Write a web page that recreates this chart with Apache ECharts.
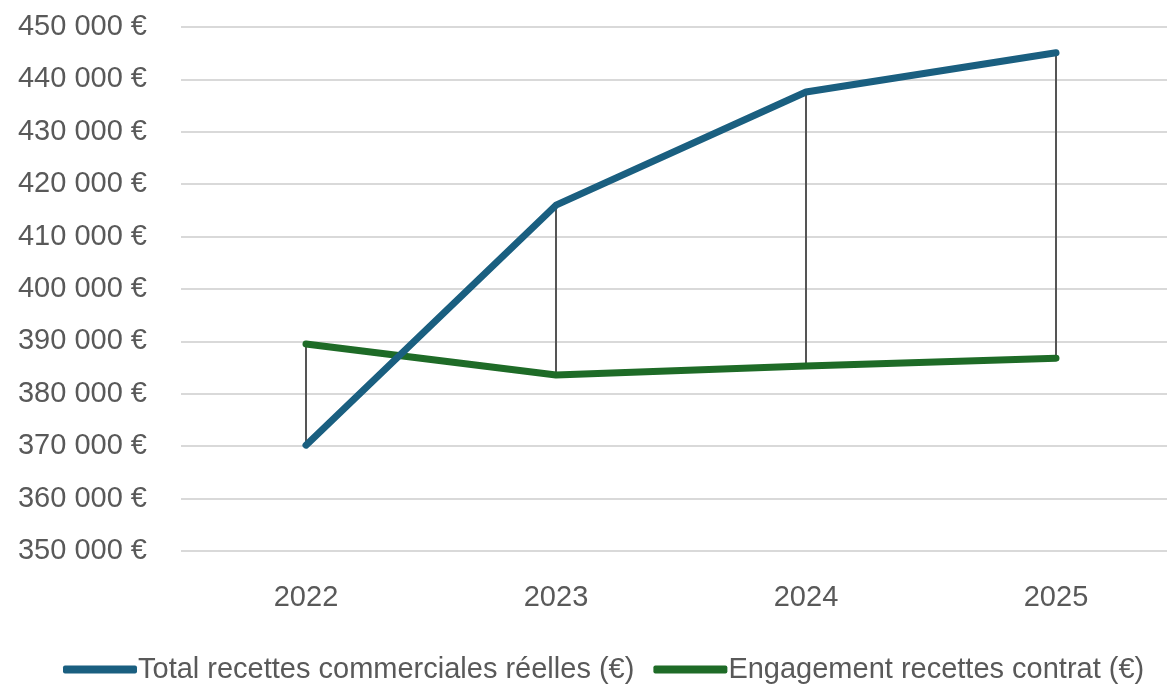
<!DOCTYPE html>
<html>
<head>
<meta charset="utf-8">
<script src="https://cdn.jsdelivr.net/npm/echarts@6/dist/echarts.min.js"></script>
<style>
  html, body { margin: 0; padding: 0; background: #ffffff; overflow: hidden; }
  #wrap { width: 1167px; height: 687px; overflow: hidden; }
  /* plot area runs slightly past the right edge of the page */
  #chart { width: 1181px; height: 687px; }
</style>
</head>
<body>
<div id="wrap"><div id="chart"></div></div>
<script>
// Years on the category axis
const years = ['2022', '2023', '2024', '2025'];
// Actual commercial revenue (€)
const totalRecettes = [370200, 416000, 437600, 445100];
// Contract revenue commitment (€)
const engagement = [389500, 383600, 385300, 386800];
// Series names shown in the legend
const nameTotal = 'Total recettes commerciales réelles (€)';
const nameEngagement = 'Engagement recettes contrat (€)';

const FONT = '"Liberation Sans", Arial, sans-serif';
const FS = 29;
const BLUE = '#1a5f80';
const GREEN = '#1e6b27';

const fmtEuro = v => String(v).replace(/\B(?=(\d{3})+(?!\d))/g, ' ') + ' €';

// High-low connector pairs: [categoryIndex, valueA, valueB]
const hiLo = years.map((y, i) => [i, totalRecettes[i], engagement[i]]);

const chart = echarts.init(document.getElementById('chart'), null, { renderer: 'canvas' });
chart.setOption({
  animation: false,
  backgroundColor: '#ffffff',
  grid: { left: 181, top: 27, right: 0, bottom: 136, containLabel: false },
  legend: {
    data: [nameTotal, nameEngagement],
    top: 650,
    left: 58,
    itemWidth: 74,
    itemHeight: 8,
    itemGap: 19,
    icon: 'roundRect',
    textStyle: { fontFamily: FONT, fontSize: FS, color: '#595959', padding: [0, 0, 0, -4] }
  },
  xAxis: {
    type: 'category',
    data: years,
    boundaryGap: true,
    axisLine: { show: false },
    axisTick: { show: false },
    axisLabel: { fontFamily: FONT, fontSize: FS, color: '#595959', margin: 32 }
  },
  yAxis: {
    type: 'value',
    min: 350000,
    max: 450000,
    interval: 10000,
    axisLine: { show: false },
    axisTick: { show: false },
    splitLine: { lineStyle: { color: '#d9d9d9', width: 2 } },
    axisLabel: { fontFamily: FONT, fontSize: FS, color: '#595959', margin: 34, formatter: fmtEuro }
  },
  series: [
    {
      type: 'custom',
      name: 'hilo',
      data: hiLo,
      z: 1,
      silent: true,
      renderItem: function (params, api) {
        const a = api.coord([api.value(0), api.value(1)]);
        const b = api.coord([api.value(0), api.value(2)]);
        return {
          type: 'line',
          shape: { x1: a[0], y1: a[1], x2: b[0], y2: b[1] },
          style: { stroke: '#555555', lineWidth: 2 }
        };
      },
      encode: { x: 0, y: [1, 2] }
    },
    {
      name: nameTotal,
      type: 'line',
      data: totalRecettes,
      z: 3,
      symbol: 'none',
      color: BLUE,
      lineStyle: { color: BLUE, width: 7, cap: 'round', join: 'round' }
    },
    {
      name: nameEngagement,
      type: 'line',
      data: engagement,
      z: 2,
      symbol: 'none',
      color: GREEN,
      lineStyle: { color: GREEN, width: 7, cap: 'round', join: 'round' }
    }
  ]
});
</script>
</body>
</html>
